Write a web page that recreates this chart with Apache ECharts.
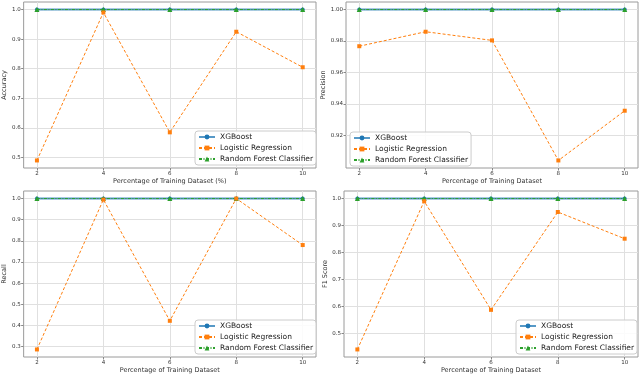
<!DOCTYPE html>
<html><head><meta charset="utf-8">
<script src="https://cdn.jsdelivr.net/npm/echarts@6/dist/echarts.min.js"></script>
<style>html,body{margin:0;padding:0;background:#fff}#c{width:640px;height:378px}</style>
</head><body><div id="c"></div>
<script>
// ---- data ----
const trainPct = [2, 4, 6, 8, 10];
const seriesNames = ['XGBoost', 'Logistic Regression', 'Random Forest Classifier'];
const metricNames = ['Accuracy', 'Precision', 'Recall', 'F1 Score'];
const xAxisTitles = ['Percentage of Training Dataset (%)', 'Percentage of Training Dataset', 'Percentage of Training Dataset', 'Percentage of Training Dataset'];
const xTicks = [2, 4, 6, 8, 10];
const accTicks = [0.5, 0.6, 0.7, 0.8, 0.9, 1.0];
const precTicks = [0.92, 0.94, 0.96, 0.98, 1.00];
const recTicks = [0.3, 0.4, 0.5, 0.6, 0.7, 0.8, 0.9, 1.0];
const f1Ticks = [0.5, 0.6, 0.7, 0.8, 0.9, 1.0];
const yTickDecimals = [1, 2, 1, 1];

const accXGB = [1.0, 1.0, 1.0, 1.0, 1.0];
const accLR  = [0.49, 0.99, 0.585, 0.925, 0.805];
const accRF  = [1.0, 1.0, 1.0, 1.0, 1.0];

const precXGB = [1.0, 1.0, 1.0, 1.0, 1.0];
const precLR  = [0.9767, 0.9859, 0.9804, 0.9041, 0.9357];
const precRF  = [1.0, 1.0, 1.0, 1.0, 1.0];

const recXGB = [1.0, 1.0, 1.0, 1.0, 1.0];
const recLR  = [0.286, 0.995, 0.4215, 1.0, 0.780];
const recRF  = [1.0, 1.0, 1.0, 1.0, 1.0];

const f1XGB = [1.0, 1.0, 1.0, 1.0, 1.0];
const f1LR  = [0.440, 0.990, 0.587, 0.950, 0.851];
const f1RF  = [1.0, 1.0, 1.0, 1.0, 1.0];

const panels = [
  [accXGB, accLR, accRF],
  [precXGB, precLR, precRF],
  [recXGB, recLR, recRF],
  [f1XGB, f1LR, f1RF]
];
const yTicks = [accTicks, precTicks, recTicks, f1Ticks];

// ---- layout ----
const grids = [
  {left: 21, top: 2, width: 295, height: 166},
  {left: 346, top: 2, width: 292, height: 166},
  {left: 21, top: 191, width: 295, height: 166},
  {left: 344, top: 191, width: 294, height: 166}
];
const legendPos = [
  {left: 195, top: 131},
  {left: 350, top: 132},
  {left: 195, top: 320},
  {left: 516, top: 320}
];
const yNameGap = [14, 19, 14, 14];
const font = 'DejaVu Sans';
const colors = ['#1f77b4', '#ff7f0e', '#2ca02c'];

function pad(arrs) {
  let lo = Infinity, hi = -Infinity;
  arrs.forEach(a => a.forEach(v => { lo = Math.min(lo, v); hi = Math.max(hi, v); }));
  const m = (hi - lo) * 0.05;
  return [lo - m, hi + m];
}
const xr = pad([trainPct]);

const option = {
  animation: false,
  backgroundColor: '#fff',
  grid: grids.map(g => Object.assign({show: true, borderColor: '#9a9a9a', borderWidth: 1, backgroundColor: 'transparent'}, g)),
  xAxis: grids.map((g, i) => ({
    type: 'value', gridIndex: i, min: xr[0], max: xr[1],
    name: xAxisTitles[i], nameLocation: 'middle', nameGap: 10,
    nameTextStyle: {fontFamily: font, fontSize: 6.5, color: '#333'},
    axisLine: {show: false},
    axisTick: {show: true, length: 2.5, customValues: xTicks, lineStyle: {color: '#888'}},
    axisLabel: {fontFamily: font, fontSize: 5.5, color: '#333', margin: 3, customValues: xTicks},
    splitLine: {show: true, lineStyle: {color: '#e0e0e0', width: 1}}
  })),
  yAxis: grids.map((g, i) => {
    const r = pad(panels[i]);
    return {
      type: 'value', gridIndex: i, min: r[0], max: r[1],
      name: metricNames[i], nameLocation: 'middle', nameGap: yNameGap[i], nameRotate: 90,
      nameTextStyle: {fontFamily: font, fontSize: 6.5, color: '#333'},
      axisLine: {show: false},
      axisTick: {show: true, length: 2.5, customValues: yTicks[i], lineStyle: {color: '#888'}},
      axisLabel: {fontFamily: font, fontSize: 5.5, color: '#333', margin: 3, customValues: yTicks[i],
        formatter: v => v.toFixed(yTickDecimals[i])},
      splitLine: {show: true, lineStyle: {color: '#e0e0e0', width: 1}}
    };
  }),
  legend: legendPos.map((p, i) => ({
    left: p.left, top: p.top, orient: 'vertical',
    data: seriesNames, itemWidth: 16, itemHeight: 6, itemGap: 3,
    padding: [2, 3, 2, 3], borderColor: '#cccccc', borderWidth: 1, borderRadius: 3,
    backgroundColor: 'rgba(255,255,255,0.85)',
    textStyle: {fontFamily: font, fontSize: 7.5, color: '#222'},
    selectedMode: false
  })),
  series: []
};

const symbols = ['circle', 'rect', 'triangle'];
const lineTypes = ['solid', [3, 2], [3, 1.5, 1, 1.5]];
const widths = [2, 1, 1];
const zs = [2, 4, 3];
panels.forEach((trip, gi) => {
  trip.forEach((vals, si) => {
    option.series.push({
      type: 'line', name: seriesNames[si], xAxisIndex: gi, yAxisIndex: gi,
      data: trainPct.map((x, k) => [x, vals[k]]),
      symbol: symbols[si], symbolSize: si === 2 ? 5 : 4, showSymbol: true, z: zs[si],
      lineStyle: {color: colors[si], width: widths[si], type: lineTypes[si], opacity: si === 0 ? 0.75 : 1},
      itemStyle: {color: colors[si]}
    });
  });
});

const chart = echarts.init(document.getElementById('c'), null, {renderer: 'canvas'});
chart.setOption(option);
</script></body></html>
